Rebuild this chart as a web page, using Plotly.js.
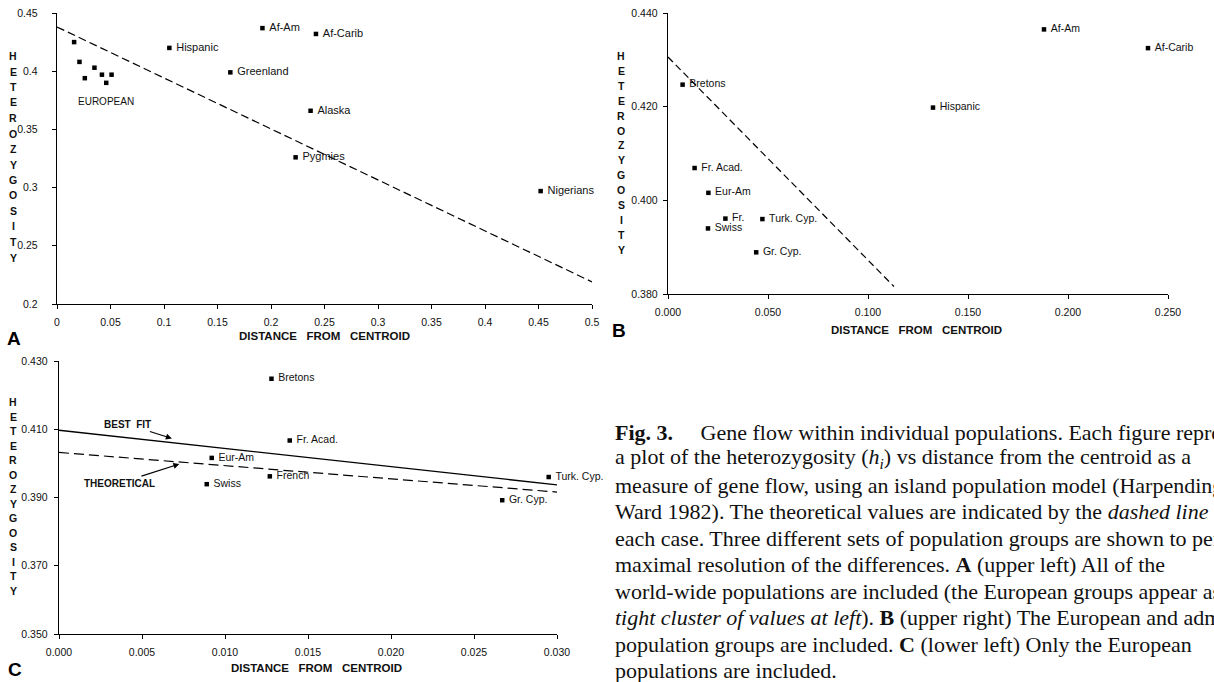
<!DOCTYPE html>
<html><head><meta charset="utf-8">
<script src="https://cdn.plot.ly/plotly-3.0.1.min.js"></script>
<style>html,body{margin:0;padding:0;overflow:hidden;background:#fff}#chart{width:1214px;height:682px}</style>
</head><body><div id="chart"></div>
<script>
// ---------------- Data ----------------
// Panel A: world-wide populations
const popA = ['Hispanic', 'Af-Am', 'Af-Carib', 'Greenland', 'Alaska', 'Pygmies', 'Nigerians'];
const distA = [0.105, 0.192, 0.242, 0.162, 0.237, 0.223, 0.452];
const hetA = [0.420, 0.437, 0.432, 0.399, 0.366, 0.326, 0.297];
const euroDistA = [0.016, 0.021, 0.026, 0.035, 0.042, 0.046, 0.051];
const euroHetA = [0.425, 0.408, 0.394, 0.403, 0.397, 0.390, 0.397];
const theoDistA = [0, 0.5];
const theoHetA = [0.438, 0.219];
const xTicksA = [0, 0.05, 0.1, 0.15, 0.2, 0.25, 0.3, 0.35, 0.4, 0.45, 0.5];
const xTickTextA = ['0', '0.05', '0.1', '0.15', '0.2', '0.25', '0.3', '0.35', '0.4', '0.45', '0.5'];
const yTicksA = [0.2, 0.25, 0.3, 0.35, 0.4, 0.45];
const yTickTextA = ['0.2', '0.25', '0.3', '0.35', '0.4', '0.45'];

// Panel B: European and admixed populations
const popB = ['Af-Am', 'Af-Carib', 'Bretons', 'Hispanic', 'Fr. Acad.', 'Eur-Am', 'Fr.', 'Turk. Cyp.', 'Swiss', 'Gr. Cyp.'];
const distB = [0.188, 0.240, 0.0073, 0.1325, 0.0133, 0.0202, 0.0287, 0.0472, 0.0200, 0.0441];
const hetB = [0.4365, 0.4325, 0.4247, 0.4198, 0.4069, 0.4016, 0.3961, 0.3960, 0.3940, 0.3889];
const theoDistB = [0, 0.113];
const theoHetB = [0.4306, 0.3816];
const xTicksB = [0, 0.05, 0.1, 0.15, 0.2, 0.25];
const yTicksB = [0.38, 0.40, 0.42, 0.44];

// Panel C: European populations only
const popC = ['Bretons', 'Fr. Acad.', 'Eur-Am', 'Swiss', 'French', 'Turk. Cyp.', 'Gr. Cyp.'];
const distC = [0.0128, 0.0139, 0.0092, 0.0089, 0.0127, 0.0295, 0.0267];
const hetC = [0.4248, 0.4067, 0.4016, 0.3939, 0.3962, 0.3960, 0.3892];
const fitDistC = [0, 0.030];
const fitHetC = [0.4097, 0.3937];
const theoDistC = [0, 0.030];
const theoHetC = [0.4032, 0.3916];
const xTicksC = [0, 0.005, 0.01, 0.015, 0.02, 0.025, 0.03];
const yTicksC = [0.35, 0.37, 0.39, 0.41, 0.43];

const yTitleText = 'HETEROZYGOSITY';
const xTitleText = 'DISTANCE\u00A0\u00A0\u00A0FROM\u00A0\u00A0\u00A0CENTROID';
const captionLines = [
  '<b>Fig. 3.</b>\u00A0\u00A0\u00A0\u00A0\u00A0Gene flow within individual populations. Each figure represents',
  'a plot of the heterozygosity (<i>h<sub>i</sub></i>) vs distance from the centroid as a',
  'measure of gene flow, using an island population model (Harpending and',
  'Ward 1982). The theoretical values are indicated by the <i>dashed line</i> in',
  'each case. Three different sets of population groups are shown to permit',
  'maximal resolution of the differences. <b>A</b> (upper left) All of the',
  'world-wide populations are included (the European groups appear as a',
  '<i>tight cluster of values at left</i>). <b>B</b> (upper right) The European and admixed',
  'population groups are included. <b>C</b> (lower left) Only the European',
  'populations are included.'
];

// ---------------- Helpers ----------------
const W = 1214, H = 682;
const fx = p => p / W;
const fy = p => 1 - p / H;
const sans = 'Liberation Sans, Arial, Helvetica, sans-serif';
const serif = 'Liberation Serif, Times New Roman, serif';
const ink = '#111';

function points(x, y, xa, ya, labels, fs) {
  return {
    type: 'scatter', mode: labels ? 'markers+text' : 'markers', x: x, y: y,
    xaxis: xa, yaxis: ya, text: labels ? labels.map(s => '\u00A0' + s) : undefined,
    textposition: 'middle right',
    textfont: {family: sans, size: fs, color: ink},
    marker: {symbol: 'square', size: 4.5, color: '#000'},
    hoverinfo: 'skip', showlegend: false, cliponaxis: false
  };
}
function line(x, y, xa, ya, dash, w) {
  return {
    type: 'scatter', mode: 'lines', x: x, y: y, xaxis: xa, yaxis: ya,
    line: {color: '#000', width: w, dash: dash},
    hoverinfo: 'skip', showlegend: false
  };
}

const data = [
  line(theoDistA, theoHetA, 'x', 'y', '8px,4px', 1.2),
  points(euroDistA, euroHetA, 'x', 'y', null, 11),
  points(distA, hetA, 'x', 'y', popA, 11),
  line(theoDistB, theoHetB, 'x2', 'y2', '7px,4px', 1.2),
  points(distB, hetB, 'x2', 'y2', popB, 10.5),
  line(fitDistC, fitHetC, 'x3', 'y3', 'solid', 1.3),
  line(theoDistC, theoHetC, 'x3', 'y3', '10px,5px', 1.2),
  points(distC, hetC, 'x3', 'y3', popC, 10.5)
];

const tickFont = {family: sans, size: 10.5, color: ink};
function mainAxis(domain, range, anchor, vals, text, fmt, standoff) {
  const a = {
    domain: domain, range: range, anchor: anchor, autorange: false,
    tickmode: 'array', tickvals: vals, ticks: 'outside', ticklen: 4, tickwidth: 1, tickcolor: '#000',
    showline: true, linecolor: '#000', linewidth: 1.3, showgrid: false, zeroline: false,
    tickfont: tickFont, ticklabelstandoff: standoff, fixedrange: true
  };
  if (text) a.ticktext = text; else a.tickformat = fmt;
  return a;
}
function overAxis(over, range, anchor, vals) {
  return {
    overlaying: over, range: range, anchor: anchor, autorange: false,
    tickmode: 'array', tickvals: vals, ticks: 'inside', ticklen: 4, tickwidth: 1, tickcolor: '#000',
    showticklabels: false, showline: false, showgrid: false, zeroline: false, fixedrange: true
  };
}

const domXA = [fx(57), fx(592)], domYA = [fy(304), fy(13)];
const domXB = [fx(668), fx(1168)], domYB = [fy(294), fy(13)];
const domXC = [fx(59), fx(557)], domYC = [fy(634), fy(361)];

const layout = {
  width: W, height: H, margin: {l: 0, r: 0, t: 0, b: 0},
  paper_bgcolor: '#fff', plot_bgcolor: 'rgba(0,0,0,0)', showlegend: false,
  xaxis: mainAxis(domXA, [0, 0.5], 'y', xTicksA, xTickTextA, null, 4),
  yaxis: mainAxis(domYA, [0.2, 0.45], 'x', yTicksA, yTickTextA, null, 12),
  xaxis2: mainAxis(domXB, [0, 0.25], 'y2', xTicksB, null, '.3f', 4),
  yaxis2: mainAxis(domYB, [0.38, 0.44], 'x2', yTicksB, null, '.3f', 3),
  xaxis3: mainAxis(domXC, [0, 0.03], 'y3', xTicksC, null, '.3f', 4),
  yaxis3: mainAxis(domYC, [0.35, 0.43], 'x3', yTicksC, null, '.3f', 4),
  xaxis4: overAxis('x', [0, 0.5], 'y', xTicksA),
  yaxis4: overAxis('y', [0.2, 0.45], 'x', yTicksA),
  xaxis5: overAxis('x2', [0, 0.25], 'y2', xTicksB),
  yaxis5: overAxis('y2', [0.38, 0.44], 'x2', yTicksB),
  xaxis6: overAxis('x3', [0, 0.03], 'y3', xTicksC),
  yaxis6: overAxis('y3', [0.35, 0.43], 'x3', yTicksC),
  annotations: []
};

const ann = layout.annotations;
function paperText(text, xp, yp, font, xanchor) {
  ann.push({xref: 'paper', yref: 'paper', x: fx(xp), y: fy(yp), text: text, showarrow: false,
            xanchor: xanchor || 'center', yanchor: 'middle', font: font, borderpad: 0});
}
// stacked vertical y titles
function yTitle(xp, yTop, step) {
  yTitleText.split('').forEach((ch, i) => {
    paperText('<b>' + ch + '</b>', xp, yTop + i * step, {family: sans, size: 10.5, color: ink});
  });
}
yTitle(13, 56, 15.5);
yTitle(621, 56, 14.9);
yTitle(13, 402, 14.5);

// x titles
const xTitleFont = {family: sans, size: 11.5, color: ink};
paperText('<b>' + xTitleText + '</b>', 325, 336, xTitleFont);
paperText('<b>' + xTitleText + '</b>', 916, 330, xTitleFont);
paperText('<b>' + xTitleText + '</b>', 316, 668, xTitleFont);

// panel letters
const letterFont = {family: sans, size: 19, color: '#000'};
paperText('<b>A</b>', 14, 338, letterFont);
paperText('<b>B</b>', 619, 330, letterFont);
paperText('<b>C</b>', 15, 669, letterFont);

// panel A cluster label
ann.push({xref: 'x', yref: 'y', x: 0.0455, y: 0.3743, text: 'EUROPEAN', showarrow: false,
          font: {family: sans, size: 10, color: ink}});

// panel C callouts
const calloutFont = {family: sans, size: 10, color: ink};
ann.push({xref: 'x3', yref: 'y3', x: 0.0068, y: 0.4073, text: '<b>BEST\u00A0\u00A0FIT</b>', showarrow: true,
          ax: -44, ay: -14, arrowhead: 2, arrowsize: 1, arrowwidth: 1.2, arrowcolor: '#000', font: calloutFont});
ann.push({xref: 'x3', yref: 'y3', x: 0.00725, y: 0.3998, text: '<b>THEORETICAL</b>', showarrow: true,
          ax: -60, ay: 19, arrowhead: 2, arrowsize: 1, arrowwidth: 1.2, arrowcolor: '#000', font: calloutFont});

// caption
const capFont = {family: serif, size: 22, color: '#111'};
const capY0 = 432, capStep = 26.5;
captionLines.forEach((t, i) => paperText(t, 614, capY0 + i * capStep, capFont, 'left'));

Plotly.newPlot('chart', data, layout, {staticPlot: true, displayModeBar: false});
</script>
</body></html>
